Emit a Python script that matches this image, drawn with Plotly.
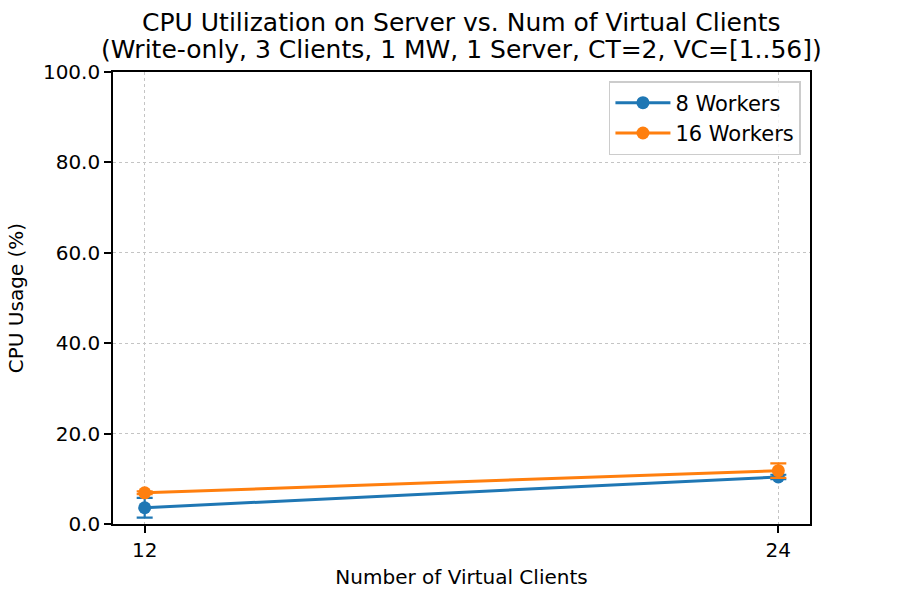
import plotly.graph_objects as go

clients = [12, 24]
w8_mean = [3.6, 10.4]
w8_err = [2.2, 0.5]
w16_mean = [6.9, 11.8]
w16_err = [0.3, 1.6]
series_names = ["8 Workers", "16 Workers"]
colors = ["#1f77b4", "#ff7f0e"]
yticks = [0, 20, 40, 60, 80, 100]
ytick_labels = ["0.0", "20.0", "40.0", "60.0", "80.0", "100.0"]
title_lines = ["CPU Utilization on Server vs. Num of Virtual Clients",
               "(Write-only, 3 Clients, 1 MW, 1 Server, CT=2, VC=[1..56])"]

FONT = "DejaVu Sans"
fig = go.Figure()
for i, (name, m, e, c) in enumerate([(series_names[0], w8_mean, w8_err, colors[0]),
                                      (series_names[1], w16_mean, w16_err, colors[1])]):
    fig.add_trace(go.Scatter(
        x=clients, y=m, name=name, mode="lines+markers",
        legendgroup="g%d" % i,
        line=dict(color=c, width=3),
        marker=dict(color=c, size=13),
        error_y=dict(type="data", array=e, visible=True, color=c, thickness=2.2, width=8),
    ))

for txt, yy in zip(title_lines, [1.1106, 1.0487]):
    fig.add_annotation(text=txt, xref="paper", yref="paper", x=0.5, y=yy,
                       xanchor="center", yanchor="middle", showarrow=False,
                       font=dict(family=FONT, size=25, color="black"))

fig.update_layout(
    width=900, height=600,
    margin=dict(l=113, r=90, t=72, b=76),
    paper_bgcolor="white", plot_bgcolor="white",
    font=dict(family=FONT, size=20, color="black"),
    legend=dict(
        x=0.987, y=0.98, xanchor="right", yanchor="top",
        bgcolor="rgba(255,255,255,0.8)", bordercolor="#cccccc", borderwidth=1.5,
        font=dict(family=FONT, size=21),
        itemwidth=55, traceorder="grouped", tracegroupgap=0,
    ),
    showlegend=True,
)
fig.update_xaxes(
    range=[11.4, 24.6], tickvals=clients, ticktext=[str(v) for v in clients],
    showline=True, linecolor="black", linewidth=1.6, mirror=True,
    ticks="outside", ticklen=7, tickwidth=1.6, tickcolor="black",
    showgrid=True, gridcolor="#c4c4c4", griddash="dot", gridwidth=1.2,
    zeroline=False,
    title=dict(text="Number of Virtual Clients", standoff=9, font=dict(size=20)),
)
fig.update_yaxes(
    range=[0, 100], tickvals=yticks, ticktext=ytick_labels,
    showline=True, linecolor="black", linewidth=1.6, mirror=True,
    ticks="outside", ticklen=7, tickwidth=1.6, tickcolor="black",
    showgrid=True, gridcolor="#c4c4c4", griddash="dot", gridwidth=1.2,
    zeroline=False,
    title=dict(text="CPU Usage (%)", standoff=14, font=dict(size=20)),
)
fig.write_html("out.html")
